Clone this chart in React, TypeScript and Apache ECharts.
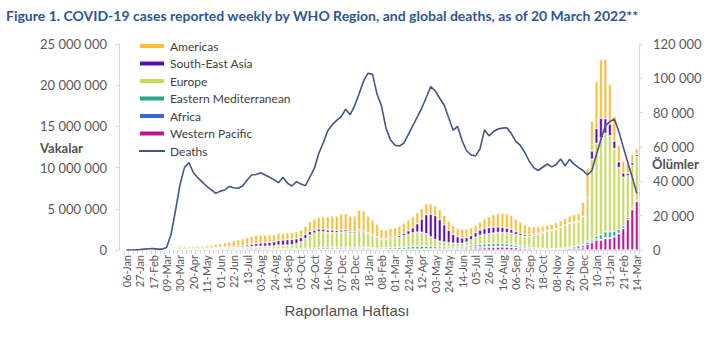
import React, { useEffect, useRef } from "react";
import * as echarts from "echarts";

// Week-start dates (Monday) from 06-Jan-2020 to 14-Mar-2022, 115 weeks
const START = Date.UTC(2020, 0, 6);
const MONTHS = ["Jan","Feb","Mar","Apr","May","Jun","Jul","Aug","Sep","Oct","Nov","Dec"];
const WEEKS: string[] = [];
for (let i = 0; i < 115; i++) {
  const d = new Date(START + i * 7 * 86400000);
  WEEKS.push(String(d.getUTCDate()).padStart(2, "0") + "-" + MONTHS[d.getUTCMonth()]);
}

// Weekly cases, millions
const americas = [
  0,0,0,0,0,0,0,0.00005,0.0005,
  0.005,0.03,0.1,0.2,0.23,0.22,0.22,0.22,0.23,0.25,0.3,
  0.38,0.43,0.5,0.56,0.66,0.75,0.82,0.9,0.96,0.98,0.95,0.93,0.9,0.85,
  0.85,0.82,0.85,0.82,0.85,0.9,1.0,1.2,1.3,1.4,1.5,1.6,1.7,1.75,1.95,2.0,1.95,1.9,2.35,2.4,2.05,1.8,1.5,1.1,1.0,1.05,
  1.05,1.15,1.2,1.3,1.35,1.35,1.3,1.3,1.25,1.2,1.2,1.15,1.1,1.05,1.05,1.05,1.05,0.95,0.9,0.95,
  1.15,1.3,1.5,1.6,1.7,1.75,1.7,1.5,1.35,1.15,1.0,0.9,0.8,0.75,0.72,0.7,0.72,0.75,0.8,0.85,0.9,1.0,1.7,
  3.5,3.6,5.7,7.1,7.2,4.8,3.0,2.0,1.45,1.1,1.0,0.7,
];
const southEastAsia = [
  0,0,0,0,0,0,0,0,0,0.0002,0.0005,0.001,
  0.004,0.006,0.012,0.017,0.022,0.03,0.035,0.045,0.055,0.07,0.085,0.095,0.11,0.14,0.17,0.21,0.28,0.35,0.4,0.44,0.47,0.5,
  0.56,0.62,0.65,0.64,0.58,0.53,0.48,0.43,0.37,0.33,0.32,0.3,0.29,0.27,0.24,0.21,0.18,0.17,0.16,0.14,0.12,0.11,0.1,0.1,0.11,0.13,
  0.16,0.22,0.3,0.45,0.6,1.0,1.6,2.3,2.75,2.9,2.6,2.1,1.5,1.05,0.8,0.65,0.55,0.5,0.55,0.65,
  0.75,0.75,0.72,0.68,0.62,0.55,0.45,0.35,0.28,0.22,0.17,0.14,0.12,0.1,0.09,0.09,0.08,0.08,0.07,0.06,0.06,0.05,0.06,
  0.15,1.0,1.8,2.4,1.8,1.4,0.9,0.7,0.5,0.3,0.3,0.25,
];
const europe = [
  0,0,0,0,0,0,0.0001,0.0015,0.012,0.04,0.12,0.19,
  0.23,0.22,0.2,0.17,0.15,0.14,0.13,0.12,0.12,0.12,0.12,0.13,0.13,0.13,0.14,0.15,0.16,0.18,0.2,0.22,0.26,0.32,
  0.43,0.41,0.42,0.46,0.6,0.8,1.2,1.6,1.82,1.97,1.93,1.83,1.82,1.79,1.87,1.93,1.7,1.75,2.0,1.91,1.67,1.47,1.27,1.07,1.07,1.18,
  1.2,1.21,1.4,1.5,1.67,1.73,1.69,1.52,1.15,0.85,0.7,0.6,0.55,0.5,0.45,0.42,0.5,0.7,0.95,1.1,
  1.15,1.2,1.25,1.3,1.33,1.35,1.35,1.3,1.28,1.28,1.36,1.54,1.69,1.85,2.02,2.12,2.31,2.5,2.72,2.9,2.89,2.81,3.38,
  5.15,9.7,11.25,11.75,11.95,11.67,10.04,7.55,5.91,5.07,5.22,5.3,
];
const easternMediterranean = [
  0,0,0,0,0,0,0,0.0005,0.005,0.01,0.012,0.02,
  0.025,0.03,0.03,0.035,0.04,0.05,0.06,0.07,0.085,0.1,0.12,0.13,0.13,0.13,0.125,0.115,0.11,0.105,0.1,0.09,0.085,0.085,
  0.09,0.1,0.11,0.12,0.12,0.13,0.14,0.15,0.16,0.18,0.2,0.21,0.21,0.2,0.18,0.16,0.14,0.13,0.13,0.12,0.12,0.12,0.13,0.15,0.17,0.19,
  0.2,0.23,0.25,0.28,0.31,0.33,0.34,0.33,0.3,0.26,0.22,0.2,0.18,0.17,0.16,0.16,0.17,0.2,0.25,0.3,
  0.34,0.36,0.38,0.38,0.36,0.33,0.3,0.26,0.22,0.18,0.15,0.12,0.1,0.09,0.08,0.075,0.07,0.07,0.07,0.07,0.08,0.09,0.11,
  0.15,0.22,0.35,0.55,0.72,0.75,0.62,0.42,0.3,0.2,0.15,0.12,
];
const africa = [
  0,0,0,0,0,0,0,0,0,0.0002,0.0006,0.002,
  0.004,0.005,0.006,0.008,0.01,0.012,0.015,0.018,0.022,0.027,0.035,0.045,0.06,0.075,0.09,0.11,0.12,0.12,0.11,0.1,0.085,0.07,
  0.06,0.05,0.045,0.04,0.04,0.04,0.04,0.045,0.05,0.055,0.06,0.065,0.07,0.075,0.085,0.1,0.11,0.12,0.14,0.13,0.11,0.09,0.07,0.055,0.045,0.04,
  0.04,0.04,0.04,0.04,0.035,0.035,0.035,0.035,0.035,0.035,0.04,0.045,0.055,0.07,0.09,0.12,0.15,0.17,0.17,0.15,
  0.13,0.11,0.1,0.09,0.08,0.07,0.06,0.05,0.04,0.03,0.025,0.02,0.02,0.02,0.02,0.02,0.02,0.025,0.04,0.1,0.2,0.3,0.3,
  0.26,0.2,0.15,0.1,0.08,0.06,0.05,0.04,0.035,0.03,0.03,0.03,
];
const westernPacific = [
  0,0,0.0015,0.012,0.023,0.027,0.005,0.005,0.006,0.005,0.005,0.007,
  0.01,0.01,0.009,0.007,0.006,0.005,0.005,0.005,0.005,0.006,0.007,0.008,0.01,0.013,0.018,0.025,0.035,0.045,0.045,0.04,0.035,0.03,
  0.027,0.025,0.023,0.02,0.02,0.02,0.02,0.02,0.022,0.025,0.03,0.035,0.04,0.045,0.05,0.055,0.055,0.06,0.07,0.07,0.06,0.05,0.04,0.035,0.035,0.04,
  0.045,0.05,0.055,0.065,0.075,0.085,0.09,0.1,0.11,0.12,0.12,0.12,0.12,0.11,0.11,0.12,0.14,0.17,0.2,0.23,
  0.26,0.3,0.33,0.35,0.36,0.35,0.33,0.28,0.22,0.17,0.13,0.11,0.1,0.1,0.1,0.11,0.12,0.13,0.14,0.15,0.17,0.2,0.25,
  0.7,0.9,1.2,1.2,1.4,1.4,1.6,2.0,2.6,3.7,4.9,5.9,
];
// Weekly global deaths, thousands
const deaths = [
  0,0,0.05,0.2,0.5,0.7,0.8,0.5,0.5,1.5,9,23,
  38,48,51,45,42,39.5,37,35,33,34.3,35,37,36.3,36,37.3,40.8,43.7,44,45,43.7,42.4,41,
  39.2,42.4,38.9,37.3,39.8,38.5,37.5,42.5,47.5,56.3,62.5,69.5,73,75.5,77.7,82,78.8,84,91,98.5,103,102.3,90.8,84,71,64.2,
  61,60.6,62.3,67.3,72.5,77.5,82.7,88.8,95.2,92.6,88.4,84.5,77,69.8,72,63.6,57.8,55.4,54.8,59,
  70,66.5,69,70.5,71,71.2,67.8,63.3,61,56.7,51.7,48,46.3,48.2,50.1,48.4,49.8,53,49.1,52.8,50,48,46.3,
  43.7,46.5,55.6,64.4,72.5,74.8,76.3,69,59.8,51,42.3,33,
];

const LEFT_TICKS = [0, 5000000, 10000000, 15000000, 20000000, 25000000];
const RIGHT_TICKS = [0, 20000, 40000, 60000, 80000, 100000, 120000];

const REGIONS = [
  { name: "Western Pacific", data: westernPacific, color: "#BE1497" },
  { name: "Africa", data: africa, color: "#3A68D6" },
  { name: "Eastern Mediterranean", data: easternMediterranean, color: "#25A889" },
  { name: "Europe", data: europe, color: "#C5D95B" },
  { name: "South-East Asia", data: southEastAsia, color: "#5A0DB2" },
  { name: "Americas", data: americas, color: "#FABD33" },
];
const LEGEND_ORDER = ["Americas","South-East Asia","Europe","Eastern Mediterranean","Africa","Western Pacific"];

const fmt = (v: number) => String(Math.round(v)).replace(/\B(?=(\d{3})+(?!\d))/g, " ");
const FONT = "Lato";
const LINE_COLOR = "#44558A";

export default function App() {
  const ref = useRef<HTMLDivElement>(null);
  useEffect(() => {
    if (!ref.current) return;
    const chart = echarts.init(ref.current, undefined, { renderer: "svg" });
    const barSeries = REGIONS.map((r) => ({
      name: r.name,
      type: "bar",
      stack: "cases",
      yAxisIndex: 0,
      barCategoryGap: "32%",
      data: r.data.map((v) => Math.round(v * 1000000)),
      itemStyle: { color: r.color, borderColor: "#ffffff", borderWidth: 0.5 },
    }));
    chart.setOption({
      animation: false,
      backgroundColor: "#ffffff",
      textStyle: { fontFamily: FONT },
      grid: { left: 124, right: 86, top: 44, bottom: 106 },
      legend: {
        data: [
          ...LEGEND_ORDER,
          { name: "Deaths", itemStyle: { color: "rgba(0,0,0,0)", borderWidth: 0, opacity: 0 } },
        ],
        orient: "vertical",
        left: 133,
        top: 35,
        itemWidth: 26,
        itemHeight: 6,
        itemGap: 5.5,
        textStyle: { fontSize: 12, color: "#404040", fontFamily: FONT },
      },
      xAxis: {
        type: "category",
        data: WEEKS,
        axisLine: { lineStyle: { color: "#D9D9D9", width: 1 } },
        axisTick: { show: true, interval: 0, length: 4, lineStyle: { color: "#D9D9D9" } },
        axisLabel: { interval: 2, rotate: 90, margin: 5, fontSize: 11, color: "#595959", fontFamily: FONT },
      },
      yAxis: [
        {
          type: "value",
          min: 0,
          max: 25000000,
          interval: 5000000,
          offset: 5,
          axisLine: { show: true, lineStyle: { color: "#D9D9D9" } },
          axisTick: { show: true, length: 4, lineStyle: { color: "#D9D9D9" } },
          splitLine: { show: false },
          axisLabel: { margin: 12, fontSize: 13, color: "#595959", fontFamily: FONT,
            formatter: (v: number) => (LEFT_TICKS.includes(v) ? fmt(v) : "") },
        },
        {
          type: "value",
          min: 0,
          max: 120000,
          interval: 20000,
          position: "right",
          axisLine: { show: true, lineStyle: { color: "#D9D9D9" } },
          axisTick: { show: true, length: 4, lineStyle: { color: "#D9D9D9" } },
          splitLine: { show: false },
          axisLabel: { margin: 14, fontSize: 13, color: "#595959", fontFamily: FONT,
            formatter: (v: number) => (RIGHT_TICKS.includes(v) ? fmt(v) : "") },
        },
      ],
      series: [
        ...barSeries,
        {
          name: "Deaths",
          type: "line",
          yAxisIndex: 1,
          symbol: "none",
          z: 5,
          data: deaths.map((v) => Math.round(v * 1000)),
          lineStyle: { color: LINE_COLOR, width: 1.6 },
          itemStyle: { color: LINE_COLOR },
        },
      ],
      graphic: [
        { type: "text", left: 6, top: 8,
          style: { text: "Figure 1. COVID-19 cases reported weekly by WHO Region, and global deaths, as of 20 March 2022**",
            font: "bold 14px Lato", fill: "#2F5597" } },
        { type: "text", left: 40, top: 141,
          style: { text: "Vakalar", font: "bold 13px Lato", fill: "#505050" } },
        { type: "text", left: 652, top: 157,
          style: { text: "Ölümler", font: "bold 13px Lato", fill: "#505050" } },
        { type: "text", x: 347, y: 310,
          style: { text: "Raporlama Haftası", font: "15px 'Liberation Sans'", fill: "#505050", align: "center", verticalAlign: "middle" } },
      ],
    });
    return () => chart.dispose();
  }, []);
  return <div ref={ref} style={{ position: "fixed", left: 0, top: 0, width: 725, height: 356, background: "#fff" }} />;
}
